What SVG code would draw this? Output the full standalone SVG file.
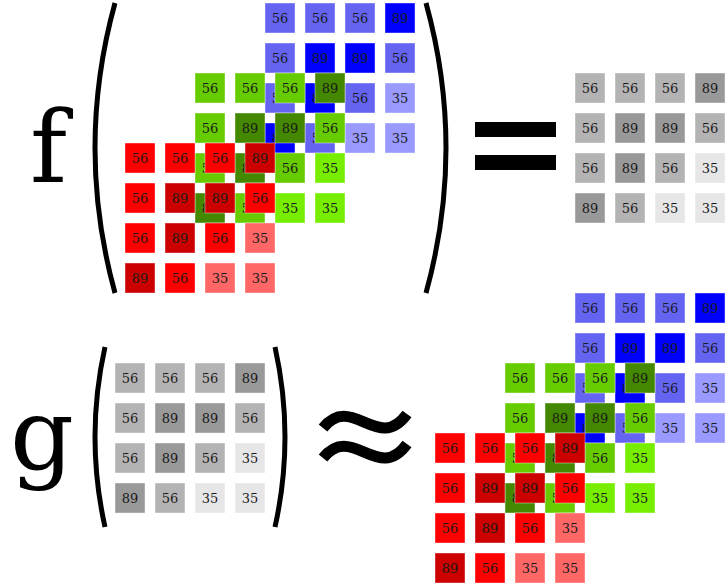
<svg xmlns="http://www.w3.org/2000/svg" width="726" height="583" viewBox="0 0 726 583">
<style>
rect.c{stroke:#fff;stroke-opacity:.4;stroke-width:1}
.b89{fill:#0000ff}.b56{fill:#6464f0}.b35{fill:#9999ff}
.g89{fill:#448800}.g56{fill:#66cc00}.g35{fill:#77ee00}
.r89{fill:#cc0000}.r56{fill:#ff0000}.r35{fill:#ff6666}
.k89{fill:#999999}.k56{fill:#b3b3b3}.k35{fill:#e6e6e6}
text.t{font-family:"DejaVu Serif",serif;font-size:13px;text-anchor:middle;fill:#1a1a1a}
text.big{font-family:"DejaVu Serif",serif;font-size:100px;fill:#000}
.par{fill:none;stroke:#000;stroke-width:5}
.wave{fill:none;stroke:#000;stroke-width:11}
</style>
<defs>
<g id="cells">
<rect class="c" x="0" y="0" width="30" height="30"/>
</g>
</defs>

<g id="fLabel"><text class="big" x="30" y="182">f</text></g>
<g id="gLabel"><text class="big" x="10" y="469">g</text></g>

<g id="symbols">
<path class="par" d="M115,3 Q75,148 115,293"/>
<path class="par" d="M426,3 Q466,148 426,293"/>
<path class="par" d="M105,347 Q85,437 105,527"/>
<path class="par" d="M275,347 Q295,437 275,527"/>
<rect x="475" y="122" width="81" height="15" fill="#000"/>
<rect x="475" y="155" width="81" height="15" fill="#000"/>
<path class="wave" d="M323,428 C352,392 378,454 407,414"/>
<path class="wave" d="M323,458 C352,422 378,484 407,444"/>
</g>

<g id="blueTop" transform="translate(265,3)">
<rect class="c b56" x="0" y="0" width="30" height="30"/><text class="t" x="15" y="20">56</text>
<rect class="c b56" x="40" y="0" width="30" height="30"/><text class="t" x="55" y="20">56</text>
<rect class="c b56" x="80" y="0" width="30" height="30"/><text class="t" x="95" y="20">56</text>
<rect class="c b89" x="120" y="0" width="30" height="30"/><text class="t" x="135" y="20">89</text>
<rect class="c b56" x="0" y="40" width="30" height="30"/><text class="t" x="15" y="60">56</text>
<rect class="c b89" x="40" y="40" width="30" height="30"/><text class="t" x="55" y="60">89</text>
<rect class="c b89" x="80" y="40" width="30" height="30"/><text class="t" x="95" y="60">89</text>
<rect class="c b56" x="120" y="40" width="30" height="30"/><text class="t" x="135" y="60">56</text>
<rect class="c b56" x="0" y="80" width="30" height="30"/><text class="t" x="15" y="100">56</text>
<rect class="c b89" x="40" y="80" width="30" height="30"/><text class="t" x="55" y="100">89</text>
<rect class="c b56" x="80" y="80" width="30" height="30"/><text class="t" x="95" y="100">56</text>
<rect class="c b35" x="120" y="80" width="30" height="30"/><text class="t" x="135" y="100">35</text>
<rect class="c b89" x="0" y="120" width="30" height="30"/><text class="t" x="15" y="140">89</text>
<rect class="c b56" x="40" y="120" width="30" height="30"/><text class="t" x="55" y="140">56</text>
<rect class="c b35" x="80" y="120" width="30" height="30"/><text class="t" x="95" y="140">35</text>
<rect class="c b35" x="120" y="120" width="30" height="30"/><text class="t" x="135" y="140">35</text>
</g>

<g id="greenTop" transform="translate(195,73)">
<rect class="c g56" x="0" y="0" width="30" height="30"/><text class="t" x="15" y="20">56</text>
<rect class="c g56" x="40" y="0" width="30" height="30"/><text class="t" x="55" y="20">56</text>
<rect class="c g56" x="80" y="0" width="30" height="30"/><text class="t" x="95" y="20">56</text>
<rect class="c g89" x="120" y="0" width="30" height="30"/><text class="t" x="135" y="20">89</text>
<rect class="c g56" x="0" y="40" width="30" height="30"/><text class="t" x="15" y="60">56</text>
<rect class="c g89" x="40" y="40" width="30" height="30"/><text class="t" x="55" y="60">89</text>
<rect class="c g89" x="80" y="40" width="30" height="30"/><text class="t" x="95" y="60">89</text>
<rect class="c g56" x="120" y="40" width="30" height="30"/><text class="t" x="135" y="60">56</text>
<rect class="c g56" x="0" y="80" width="30" height="30"/><text class="t" x="15" y="100">56</text>
<rect class="c g89" x="40" y="80" width="30" height="30"/><text class="t" x="55" y="100">89</text>
<rect class="c g56" x="80" y="80" width="30" height="30"/><text class="t" x="95" y="100">56</text>
<rect class="c g35" x="120" y="80" width="30" height="30"/><text class="t" x="135" y="100">35</text>
<rect class="c g89" x="0" y="120" width="30" height="30"/><text class="t" x="15" y="140">89</text>
<rect class="c g56" x="40" y="120" width="30" height="30"/><text class="t" x="55" y="140">56</text>
<rect class="c g35" x="80" y="120" width="30" height="30"/><text class="t" x="95" y="140">35</text>
<rect class="c g35" x="120" y="120" width="30" height="30"/><text class="t" x="135" y="140">35</text>
</g>

<g id="redTop" transform="translate(125,143)">
<rect class="c r56" x="0" y="0" width="30" height="30"/><text class="t" x="15" y="20">56</text>
<rect class="c r56" x="40" y="0" width="30" height="30"/><text class="t" x="55" y="20">56</text>
<rect class="c r56" x="80" y="0" width="30" height="30"/><text class="t" x="95" y="20">56</text>
<rect class="c r89" x="120" y="0" width="30" height="30"/><text class="t" x="135" y="20">89</text>
<rect class="c r56" x="0" y="40" width="30" height="30"/><text class="t" x="15" y="60">56</text>
<rect class="c r89" x="40" y="40" width="30" height="30"/><text class="t" x="55" y="60">89</text>
<rect class="c r89" x="80" y="40" width="30" height="30"/><text class="t" x="95" y="60">89</text>
<rect class="c r56" x="120" y="40" width="30" height="30"/><text class="t" x="135" y="60">56</text>
<rect class="c r56" x="0" y="80" width="30" height="30"/><text class="t" x="15" y="100">56</text>
<rect class="c r89" x="40" y="80" width="30" height="30"/><text class="t" x="55" y="100">89</text>
<rect class="c r56" x="80" y="80" width="30" height="30"/><text class="t" x="95" y="100">56</text>
<rect class="c r35" x="120" y="80" width="30" height="30"/><text class="t" x="135" y="100">35</text>
<rect class="c r89" x="0" y="120" width="30" height="30"/><text class="t" x="15" y="140">89</text>
<rect class="c r56" x="40" y="120" width="30" height="30"/><text class="t" x="55" y="140">56</text>
<rect class="c r35" x="80" y="120" width="30" height="30"/><text class="t" x="95" y="140">35</text>
<rect class="c r35" x="120" y="120" width="30" height="30"/><text class="t" x="135" y="140">35</text>
</g>

<g id="grayTop" transform="translate(575,73)">
<rect class="c k56" x="0" y="0" width="30" height="30"/><text class="t" x="15" y="20">56</text>
<rect class="c k56" x="40" y="0" width="30" height="30"/><text class="t" x="55" y="20">56</text>
<rect class="c k56" x="80" y="0" width="30" height="30"/><text class="t" x="95" y="20">56</text>
<rect class="c k89" x="120" y="0" width="30" height="30"/><text class="t" x="135" y="20">89</text>
<rect class="c k56" x="0" y="40" width="30" height="30"/><text class="t" x="15" y="60">56</text>
<rect class="c k89" x="40" y="40" width="30" height="30"/><text class="t" x="55" y="60">89</text>
<rect class="c k89" x="80" y="40" width="30" height="30"/><text class="t" x="95" y="60">89</text>
<rect class="c k56" x="120" y="40" width="30" height="30"/><text class="t" x="135" y="60">56</text>
<rect class="c k56" x="0" y="80" width="30" height="30"/><text class="t" x="15" y="100">56</text>
<rect class="c k89" x="40" y="80" width="30" height="30"/><text class="t" x="55" y="100">89</text>
<rect class="c k56" x="80" y="80" width="30" height="30"/><text class="t" x="95" y="100">56</text>
<rect class="c k35" x="120" y="80" width="30" height="30"/><text class="t" x="135" y="100">35</text>
<rect class="c k89" x="0" y="120" width="30" height="30"/><text class="t" x="15" y="140">89</text>
<rect class="c k56" x="40" y="120" width="30" height="30"/><text class="t" x="55" y="140">56</text>
<rect class="c k35" x="80" y="120" width="30" height="30"/><text class="t" x="95" y="140">35</text>
<rect class="c k35" x="120" y="120" width="30" height="30"/><text class="t" x="135" y="140">35</text>
</g>

<g id="grayBottom" transform="translate(115,363)">
<rect class="c k56" x="0" y="0" width="30" height="30"/><text class="t" x="15" y="20">56</text>
<rect class="c k56" x="40" y="0" width="30" height="30"/><text class="t" x="55" y="20">56</text>
<rect class="c k56" x="80" y="0" width="30" height="30"/><text class="t" x="95" y="20">56</text>
<rect class="c k89" x="120" y="0" width="30" height="30"/><text class="t" x="135" y="20">89</text>
<rect class="c k56" x="0" y="40" width="30" height="30"/><text class="t" x="15" y="60">56</text>
<rect class="c k89" x="40" y="40" width="30" height="30"/><text class="t" x="55" y="60">89</text>
<rect class="c k89" x="80" y="40" width="30" height="30"/><text class="t" x="95" y="60">89</text>
<rect class="c k56" x="120" y="40" width="30" height="30"/><text class="t" x="135" y="60">56</text>
<rect class="c k56" x="0" y="80" width="30" height="30"/><text class="t" x="15" y="100">56</text>
<rect class="c k89" x="40" y="80" width="30" height="30"/><text class="t" x="55" y="100">89</text>
<rect class="c k56" x="80" y="80" width="30" height="30"/><text class="t" x="95" y="100">56</text>
<rect class="c k35" x="120" y="80" width="30" height="30"/><text class="t" x="135" y="100">35</text>
<rect class="c k89" x="0" y="120" width="30" height="30"/><text class="t" x="15" y="140">89</text>
<rect class="c k56" x="40" y="120" width="30" height="30"/><text class="t" x="55" y="140">56</text>
<rect class="c k35" x="80" y="120" width="30" height="30"/><text class="t" x="95" y="140">35</text>
<rect class="c k35" x="120" y="120" width="30" height="30"/><text class="t" x="135" y="140">35</text>
</g>

<g id="blueBottom" transform="translate(575,293)">
<rect class="c b56" x="0" y="0" width="30" height="30"/><text class="t" x="15" y="20">56</text>
<rect class="c b56" x="40" y="0" width="30" height="30"/><text class="t" x="55" y="20">56</text>
<rect class="c b56" x="80" y="0" width="30" height="30"/><text class="t" x="95" y="20">56</text>
<rect class="c b89" x="120" y="0" width="30" height="30"/><text class="t" x="135" y="20">89</text>
<rect class="c b56" x="0" y="40" width="30" height="30"/><text class="t" x="15" y="60">56</text>
<rect class="c b89" x="40" y="40" width="30" height="30"/><text class="t" x="55" y="60">89</text>
<rect class="c b89" x="80" y="40" width="30" height="30"/><text class="t" x="95" y="60">89</text>
<rect class="c b56" x="120" y="40" width="30" height="30"/><text class="t" x="135" y="60">56</text>
<rect class="c b56" x="0" y="80" width="30" height="30"/><text class="t" x="15" y="100">56</text>
<rect class="c b89" x="40" y="80" width="30" height="30"/><text class="t" x="55" y="100">89</text>
<rect class="c b56" x="80" y="80" width="30" height="30"/><text class="t" x="95" y="100">56</text>
<rect class="c b35" x="120" y="80" width="30" height="30"/><text class="t" x="135" y="100">35</text>
<rect class="c b89" x="0" y="120" width="30" height="30"/><text class="t" x="15" y="140">89</text>
<rect class="c b56" x="40" y="120" width="30" height="30"/><text class="t" x="55" y="140">56</text>
<rect class="c b35" x="80" y="120" width="30" height="30"/><text class="t" x="95" y="140">35</text>
<rect class="c b35" x="120" y="120" width="30" height="30"/><text class="t" x="135" y="140">35</text>
</g>

<g id="greenBottom" transform="translate(505,363)">
<rect class="c g56" x="0" y="0" width="30" height="30"/><text class="t" x="15" y="20">56</text>
<rect class="c g56" x="40" y="0" width="30" height="30"/><text class="t" x="55" y="20">56</text>
<rect class="c g56" x="80" y="0" width="30" height="30"/><text class="t" x="95" y="20">56</text>
<rect class="c g89" x="120" y="0" width="30" height="30"/><text class="t" x="135" y="20">89</text>
<rect class="c g56" x="0" y="40" width="30" height="30"/><text class="t" x="15" y="60">56</text>
<rect class="c g89" x="40" y="40" width="30" height="30"/><text class="t" x="55" y="60">89</text>
<rect class="c g89" x="80" y="40" width="30" height="30"/><text class="t" x="95" y="60">89</text>
<rect class="c g56" x="120" y="40" width="30" height="30"/><text class="t" x="135" y="60">56</text>
<rect class="c g56" x="0" y="80" width="30" height="30"/><text class="t" x="15" y="100">56</text>
<rect class="c g89" x="40" y="80" width="30" height="30"/><text class="t" x="55" y="100">89</text>
<rect class="c g56" x="80" y="80" width="30" height="30"/><text class="t" x="95" y="100">56</text>
<rect class="c g35" x="120" y="80" width="30" height="30"/><text class="t" x="135" y="100">35</text>
<rect class="c g89" x="0" y="120" width="30" height="30"/><text class="t" x="15" y="140">89</text>
<rect class="c g56" x="40" y="120" width="30" height="30"/><text class="t" x="55" y="140">56</text>
<rect class="c g35" x="80" y="120" width="30" height="30"/><text class="t" x="95" y="140">35</text>
<rect class="c g35" x="120" y="120" width="30" height="30"/><text class="t" x="135" y="140">35</text>
</g>

<g id="redBottom" transform="translate(435,433)">
<rect class="c r56" x="0" y="0" width="30" height="30"/><text class="t" x="15" y="20">56</text>
<rect class="c r56" x="40" y="0" width="30" height="30"/><text class="t" x="55" y="20">56</text>
<rect class="c r56" x="80" y="0" width="30" height="30"/><text class="t" x="95" y="20">56</text>
<rect class="c r89" x="120" y="0" width="30" height="30"/><text class="t" x="135" y="20">89</text>
<rect class="c r56" x="0" y="40" width="30" height="30"/><text class="t" x="15" y="60">56</text>
<rect class="c r89" x="40" y="40" width="30" height="30"/><text class="t" x="55" y="60">89</text>
<rect class="c r89" x="80" y="40" width="30" height="30"/><text class="t" x="95" y="60">89</text>
<rect class="c r56" x="120" y="40" width="30" height="30"/><text class="t" x="135" y="60">56</text>
<rect class="c r56" x="0" y="80" width="30" height="30"/><text class="t" x="15" y="100">56</text>
<rect class="c r89" x="40" y="80" width="30" height="30"/><text class="t" x="55" y="100">89</text>
<rect class="c r56" x="80" y="80" width="30" height="30"/><text class="t" x="95" y="100">56</text>
<rect class="c r35" x="120" y="80" width="30" height="30"/><text class="t" x="135" y="100">35</text>
<rect class="c r89" x="0" y="120" width="30" height="30"/><text class="t" x="15" y="140">89</text>
<rect class="c r56" x="40" y="120" width="30" height="30"/><text class="t" x="55" y="140">56</text>
<rect class="c r35" x="80" y="120" width="30" height="30"/><text class="t" x="95" y="140">35</text>
<rect class="c r35" x="120" y="120" width="30" height="30"/><text class="t" x="135" y="140">35</text>
</g>
</svg>
